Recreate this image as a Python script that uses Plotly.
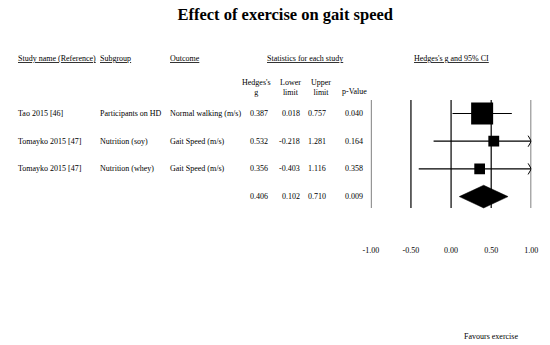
import plotly.graph_objects as go
import math

# ---- data ----
studies = ["Tao 2015 [46]", "Tomayko 2015 [47]", "Tomayko 2015 [47]"]
subgroups = ["Participants on HD", "Nutrition (soy)", "Nutrition (whey)"]
outcomes = ["Normal walking (m/s)", "Gait Speed (m/s)", "Gait Speed (m/s)"]
hedges_g = [0.387, 0.532, 0.356]
lower = [0.018, -0.218, -0.403]
upper = [0.757, 1.281, 1.116]
pvals = [0.040, 0.164, 0.358]
summary = {"g": 0.406, "lower": 0.102, "upper": 0.710, "p": 0.009}
tick_vals = [-1.0, -0.5, 0.0, 0.5, 1.0]
tick_labels = ["-1.00", "-0.50", "0.00", "0.50", "1.00"]

W, H = 550, 345
FONT = "Liberation Serif, Times New Roman, serif"
FS = 8

# layout geometry (pixels)
PLOT_L, PLOT_R = 373, 538
PLOT_BOTTOM = 244
ROW0, ROWH = 113.5, 27.7
xmin, xmax = tick_vals[0], tick_vals[-1]

def px(x):
    return x / W

def py(y):
    return 1 - y / H

yr_top = -ROW0 / ROWH
yr_bot = (PLOT_BOTTOM - ROW0) / ROWH

fig = go.Figure()

# inverse-variance weights from CI
se = [(u - l) / (2 * 1.96) for l, u in zip(lower, upper)]
wts = [1 / s ** 2 for s in se]
wmax = max(wts)
sizes = [22 * math.sqrt(w / wmax) for w in wts]

rows = list(range(len(studies)))

# CI lines
for i in rows:
    lo = max(lower[i], xmin)
    hi = min(upper[i], xmax)
    fig.add_trace(go.Scatter(x=[lo, hi], y=[i, i], mode="lines",
                             line=dict(color="black", width=1.2),
                             hoverinfo="skip", showlegend=False))
    if upper[i] > xmax:
        fig.add_trace(go.Scatter(x=[xmax - 0.04, xmax, xmax - 0.04],
                                 y=[i - 0.2, i, i + 0.2], mode="lines",
                                 line=dict(color="black", width=1),
                                 hoverinfo="skip", showlegend=False))

# squares
fig.add_trace(go.Scatter(x=hedges_g, y=rows, mode="markers",
                         marker=dict(symbol="square", size=sizes, color="black",
                                     opacity=1, line=dict(width=0)),
                         showlegend=False))

# summary diamond
sr = len(studies)
dh = 0.41
fig.add_trace(go.Scatter(
    x=[summary["lower"], summary["g"], summary["upper"], summary["g"], summary["lower"]],
    y=[sr, sr - dh, sr, sr + dh, sr],
    mode="lines", fill="toself", fillcolor="black",
    line=dict(color="black", width=0.5), showlegend=False))

# vertical lines
vy0 = (100 - ROW0) / ROWH
vy1 = (208 - ROW0) / ROWH
for t in tick_vals:
    edge = t in (xmin, xmax)
    fig.add_shape(type="line", xref="x", yref="y", x0=t, x1=t, y0=vy0, y1=vy1,
                  line=dict(color="#808080" if edge else "black", width=2 if edge else 1.2),
                  layer="below")

ann = []
def txt(x, y, s, xanchor="left", yref="paper", size=FS, **kw):
    ann.append(dict(x=x, y=y, xref="paper", yref=yref, text=s, showarrow=False,
                    xanchor=xanchor, yanchor="middle", align="center",
                    font=dict(family=FONT, size=size, color="black"), **kw))

# headers
HY = py(58)
txt(px(8), HY, "<u>Study name (Reference)</u>")
txt(px(93), HY, "<u>Subgroup</u>")
txt(px(164), HY, "<u>Outcome</u>")
txt(px(305), HY, "<u>Statistics for each study</u>", xanchor="center")
txt(px(455.5), HY, "<u>Hedges's g and 95% CI</u>", xanchor="center")

txt(px(255), py(87), "Hedges's<br>g", xanchor="center")
txt(px(290), py(87), "Lower<br>limit", xanchor="center")
txt(px(322), py(87), "Upper<br>limit", xanchor="center")
txt(px(356), py(92), "p-Value", xanchor="center")

cols_r = [269, 302, 329, 367]
for i in rows:
    txt(px(8), i, studies[i], yref="y")
    txt(px(93), i, subgroups[i], yref="y")
    txt(px(164), i, outcomes[i], yref="y")
    for cx, v in zip(cols_r, [hedges_g[i], lower[i], upper[i], pvals[i]]):
        txt(px(cx), i, f"{v:.3f}", xanchor="right", yref="y")
for cx, v in zip(cols_r, [summary["g"], summary["lower"], summary["upper"], summary["p"]]):
    txt(px(cx), sr, f"{v:.3f}", xanchor="right", yref="y")

txt(px(497), py(336), "Favours exercise", xanchor="center")

fig.update_layout(
    width=W, height=H,
    margin=dict(l=0, r=0, t=0, b=0),
    paper_bgcolor="white", plot_bgcolor="white",
    title=dict(text="<b>Effect of exercise on gait speed</b>", x=285 / W, y=py(14),
               xanchor="center", yanchor="middle", xref="paper", yref="paper",
               font=dict(family=FONT, size=16.5, color="black")),
    xaxis=dict(domain=[px(PLOT_L), px(PLOT_R)], range=[xmin, xmax],
               tickvals=tick_vals, ticktext=tick_labels, showgrid=False,
               zeroline=False, showline=False, ticks="",
               tickfont=dict(family=FONT, size=FS, color="black"),
               fixedrange=True),
    yaxis=dict(domain=[py(PLOT_BOTTOM), 1], range=[yr_bot, yr_top],
               visible=False, showgrid=False, zeroline=False, fixedrange=True),
    annotations=ann,
    font=dict(family=FONT, size=FS, color="black"),
)

fig.write_html("out.html", config={"displayModeBar": False},
               post_script="document.body.style.margin='0';document.body.style.overflow='hidden';")
